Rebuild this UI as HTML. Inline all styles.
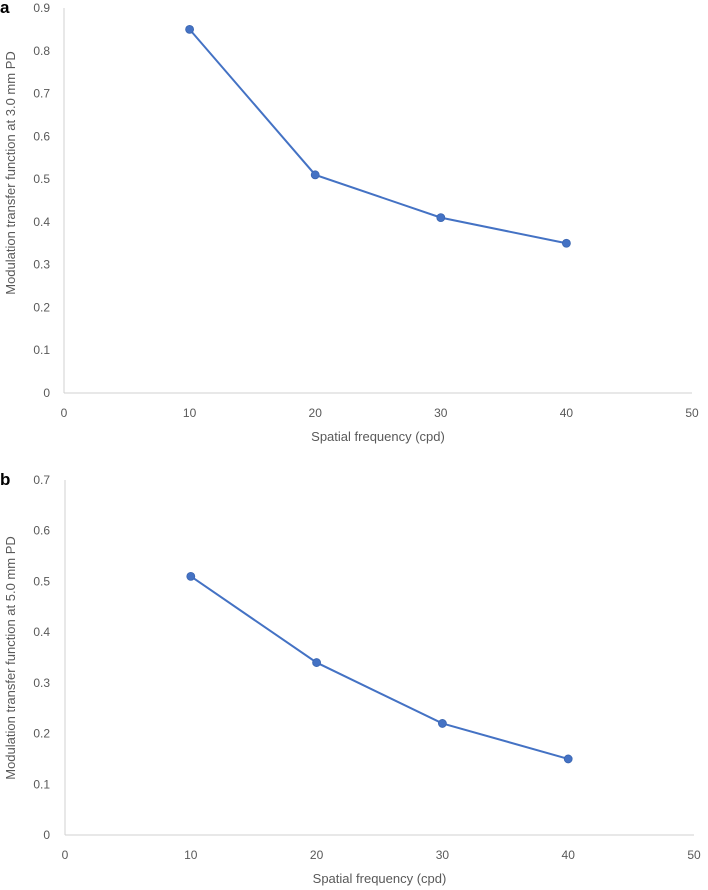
<!DOCTYPE html>
<html><head><meta charset="utf-8"><style>
html,body{margin:0;padding:0;background:#fff;}
svg{display:block;font-family:"Liberation Sans",sans-serif;}
</style></head><body>
<svg id="c" width="708" height="890" xmlns="http://www.w3.org/2000/svg"></svg>
<script>
const categoriesX = [10, 20, 30, 40];
const seriesA = [0.85, 0.51, 0.41, 0.35];
const seriesB = [0.51, 0.34, 0.22, 0.15];
const xTicks = [0, 10, 20, 30, 40, 50];
const yTicksA = [0, 0.1, 0.2, 0.3, 0.4, 0.5, 0.6, 0.7, 0.8, 0.9];
const yTicksB = [0, 0.1, 0.2, 0.3, 0.4, 0.5, 0.6, 0.7];

const NS = "http://www.w3.org/2000/svg";
const svg = document.getElementById('c');
function mk(tag, attrs, parent, text) {
  const e = document.createElementNS(NS, tag);
  for (const k in attrs) e.setAttribute(k, attrs[k]);
  if (text !== undefined) e.textContent = text;
  parent.appendChild(e);
  return e;
}
function panel(cfg) {
  const g = mk('g', {}, svg);
  
  
  const xs = v => cfg.x0 + (v - 0) / 50 * (cfg.x1 - cfg.x0);
  const ys = v => cfg.y0 - v / cfg.ymax * (cfg.y0 - cfg.y1);
  const lbl = mk('text', {x: 0, y: cfg.y1 + 5, 'font-size': 17, 'font-weight': 'bold', fill: '#000'}, g, cfg.letter);
  
  
  const ya = mk('line', {x1: cfg.x0, x2: cfg.x0, y1: cfg.y1, y2: cfg.y0, stroke: '#d0d0d0', 'stroke-width': 1}, g);
  
  
  const xa = mk('line', {x1: cfg.x0, x2: cfg.x1, y1: cfg.y0, y2: cfg.y0, stroke: '#d0d0d0', 'stroke-width': 1}, g);
  
  
  cfg.yTicks.forEach(v => {
    const t = mk('text', {x: 50, y: ys(v) + 4, 'text-anchor': 'end', 'font-size': 12, fill: '#595959'}, g, String(v));
    
    
  });
  xTicks.forEach(v => {
    const t = mk('text', {x: xs(v), y: cfg.y0 + 24, 'text-anchor': 'middle', 'font-size': 12, fill: '#595959'}, g, String(v));
    
    
  });
  const xt = mk('text', {x: (cfg.x0 + cfg.x1) / 2, y: cfg.y0 + 48, 'text-anchor': 'middle', 'font-size': 13, fill: '#595959'}, g, 'Spatial frequency  (cpd)');
  
  
  const cy = cfg.ytc;
  const yt = mk('text', {x: 0, y: 0, transform: 'translate(15,' + cy + ') rotate(-90)', 'text-anchor': 'middle', 'font-size': 13, fill: '#595959'}, g, cfg.ytitle);
  
  
  const pts = categoriesX.map((c, i) => xs(c) + ',' + ys(cfg.data[i])).join(' ');
  const pl = mk('polyline', {points: pts, fill: 'none', stroke: '#4472C4', 'stroke-width': 2}, g);
  
  
  categoriesX.forEach((c, i) => {
    const p = mk('circle', {cx: xs(c), cy: ys(cfg.data[i]), r: 4, fill: '#4472C4', stroke: '#3a65b0', 'stroke-width': 0.8}, g);
    
    
  });
}
panel({name: 'chart-a', letter: 'a', x0: 64, x1: 692, y0: 393, y1: 8, ymax: 0.9, yTicks: yTicksA, data: seriesA, ytc: 173, ytitle: 'Modulation transfer function at 3.0 mm PD'});
panel({name: 'chart-b', letter: 'b', x0: 65, x1: 694, y0: 835, y1: 480, ymax: 0.7, yTicks: yTicksB, data: seriesB, ytc: 658, ytitle: 'Modulation transfer function at 5.0 mm PD'});
</script>
</body></html>
